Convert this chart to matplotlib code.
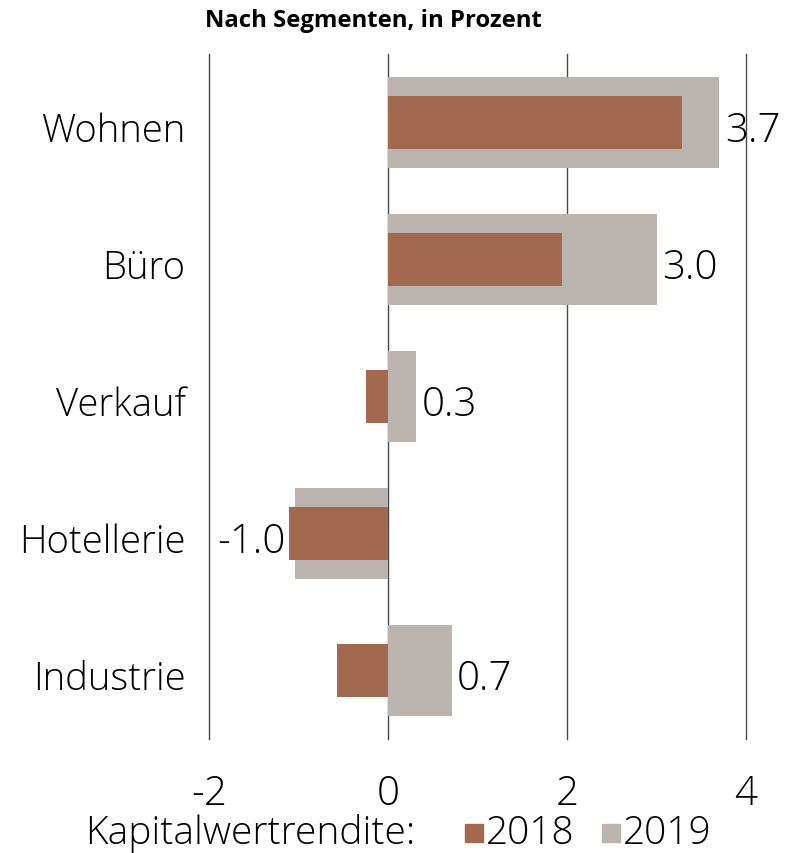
#!/usr/bin/env python3
"""Kapitalwertrendite nach Segmenten, 2018 vs 2019."""

import matplotlib

matplotlib.use("Agg")
import matplotlib.pyplot as plt
from matplotlib.patches import Rectangle

categories = ["Wohnen", "Büro", "Verkauf", "Hotellerie", "Industrie"]
values_2018 = [3.28, 1.94, -0.25, -1.11, -0.57]
values_2019 = [3.70, 3.00, 0.31, -1.04, 0.71]
value_labels = ["3.7", "3.0", "0.3", "-1.0", "0.7"]
xticks = [-2, 0, 2, 4]

BROWN = "#a36850"
GREY = "#bcb4ae"
FS = 27.5
NUM_FS = 29
TEXT_DROP = -6  # labels sit a bit below the bar centre in the original

plt.rcParams["font.family"] = ["Open Sans", "DejaVu Sans"]

fig = plt.figure(figsize=(7.94, 8.54), dpi=100)
ax = fig.add_axes([209 / 794, 1 - 740 / 854, (746 - 209) / 794, (740 - 55) / 854])

ypos = list(range(len(categories)))
ax.barh(ypos, values_2019, height=0.66, color=GREY, zorder=2)
ax.barh(ypos, values_2018, height=0.39, color=BROWN, zorder=3)

for y, v18, v19, lab in zip(ypos, values_2018, values_2019, value_labels):
    if v19 >= 0:
        ax.annotate(lab, (max(v18, v19), y), xytext=(4, TEXT_DROP), textcoords="offset points",
                    ha="left", va="center", fontsize=NUM_FS, fontweight="light", zorder=4)
    else:
        ax.annotate(lab, (min(v18, v19), y), xytext=(-2, TEXT_DROP), textcoords="offset points",
                    ha="right", va="center", fontsize=NUM_FS, fontweight="light", zorder=4)

# category names
for y, name in zip(ypos, categories):
    ax.annotate(name, (0, y), xycoords=("axes fraction", "data"), xytext=(-17, TEXT_DROP),
                textcoords="offset points", ha="right", va="center", fontsize=FS,
                fontweight="light", annotation_clip=False)

for t in xticks:
    ax.axvline(t, color="#4a4a4a", linewidth=1.0, zorder=1, clip_on=False)

ax.set_xlim(-2, 4)
ax.set_ylim(4.5, -0.5)
ax.set_xticks(xticks)
ax.set_xticklabels([str(t) for t in xticks], fontsize=NUM_FS, fontweight="light")
ax.set_yticks([])
ax.tick_params(axis="x", length=0, pad=24.5)
for s in ax.spines.values():
    s.set_visible(False)

fig.text(205 / 794, 1 - 21 / 854, "Nach Segmenten, in Prozent", fontsize=17.2,
         fontweight="bold", ha="left", va="center")

# legend line at the bottom
ly = 1 - 834 / 854
fig.text(85 / 794, ly, "Kapitalwertrendite:", fontsize=28, fontweight="light",
         ha="left", va="center")
sq_w, sq_h = 18 / 794, 18 / 854
fig.patches.append(Rectangle((465 / 794, ly - sq_h / 2), sq_w, sq_h, color=BROWN,
                             transform=fig.transFigure, figure=fig))
fig.text(486 / 794, ly, "2018", fontsize=28, fontweight="light", ha="left", va="center")
fig.patches.append(Rectangle((602 / 794, ly - sq_h / 2), sq_w, sq_h, color=GREY,
                             transform=fig.transFigure, figure=fig))
fig.text(623 / 794, ly, "2019", fontsize=28, fontweight="light", ha="left", va="center")

fig.savefig("out.png", dpi=100)
